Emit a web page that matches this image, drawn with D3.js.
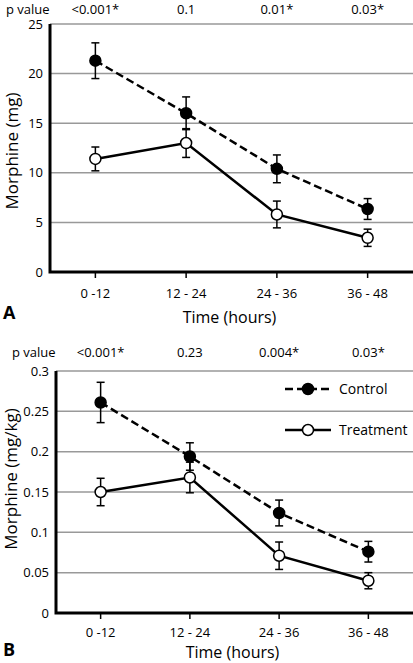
<!DOCTYPE html>
<html><head><meta charset="utf-8">
<script src="https://cdn.jsdelivr.net/npm/d3@7"></script>
<style>body{margin:0;background:#fff}svg{display:block}text{font-family:"Open Sans",sans-serif;fill:#000}</style>
</head><body>
<script>
const categories = ["0 -12", "12 - 24", "24 - 36", "36 - 48"];
// Panel A: morphine (mg)
const pValuesA = ["<0.001*", "0.1", "0.01*", "0.03*"];
const controlA = [21.3, 16.0, 10.4, 6.35];
const controlErrA = [1.8, 1.65, 1.4, 1.05];
const treatmentA = [11.4, 13.0, 5.8, 3.45];
const treatmentErrA = [1.2, 1.45, 1.35, 0.87];
const yTicksA = [0, 5, 10, 15, 20, 25];
// Panel B: morphine (mg/kg)
const pValuesB = ["<0.001*", "0.23", "0.004*", "0.03*"];
const controlB = [0.261, 0.194, 0.124, 0.076];
const controlErrB = [0.025, 0.017, 0.016, 0.0128];
const treatmentB = [0.150, 0.168, 0.071, 0.040];
const treatmentErrB = [0.017, 0.019, 0.017, 0.010];
const yTicksB = [0, 0.05, 0.1, 0.15, 0.2, 0.25, 0.3];

const W = 413, H = 663;
const svg = d3.select("body").append("svg").attr("width", W).attr("height", H);

function panel(opt) {
  const g = svg.append("g");
  const x = d3.scaleBand().domain(categories).range([opt.x0, W]);
  const y = d3.scaleLinear().domain([0, opt.ymax]).range([opt.yBottom, opt.yTop]);
  const cx = c => x(c) + x.bandwidth() / 2;
  // gridlines
  g.selectAll(".grid").data(opt.ticks.filter(t => t > 0)).join("line")
    .attr("x1", opt.x0).attr("x2", W).attr("y1", d => y(d)).attr("y2", d => y(d))
    .attr("stroke", "#999").attr("stroke-width", 1.5);
  // y tick labels
  g.selectAll(".yl").data(opt.ticks).join("text")
    .attr("x", opt.x0 - 7).attr("y", d => y(d)).attr("dy", "0.35em")
    .attr("text-anchor", "end").attr("font-size", 13).text(d => String(d));
  // x axis ticks
  g.selectAll(".xt").data(categories).join("line")
    .attr("x1", cx).attr("x2", cx).attr("y1", opt.yBottom).attr("y2", opt.yBottom + 6)
    .attr("stroke", "#000").attr("stroke-width", 1.5);
  g.selectAll(".xl").data(categories).join("text")
    .attr("x", cx).attr("y", opt.yBottom + opt.tickLabOff).attr("dy", "0.35em")
    .attr("text-anchor", "middle").attr("font-size", 13).text(d => d);
  // axes
  g.append("path").attr("d", `M${opt.x0},${opt.yTop}V${opt.yBottom}H${W}`)
    .attr("fill", "none").attr("stroke", "#000").attr("stroke-width", 3);
  // axis titles
  g.append("text").attr("x", (opt.x0 + W) / 2 - 2).attr("y", opt.yBottom + opt.titleOff).attr("dy", "0.35em")
    .attr("text-anchor", "middle").attr("font-size", 16).text("Time (hours)");
  g.append("text").attr("transform", `translate(${opt.ylx},${opt.ylc}) rotate(-90)`)
    .attr("dy", "0.35em").attr("text-anchor", "middle").attr("font-size", 17).text(opt.ylabel);
  g.append("text").attr("x", 3).attr("y", opt.letterY).attr("dy", "0.35em")
    .attr("font-size", 18).attr("font-weight", "bold").text(opt.letter);
  // p values
  g.append("text").attr("x", opt.pvx).attr("y", opt.pY).attr("dy", "0.35em")
    .attr("font-size", 13).text("p value");
  g.selectAll(".pv").data(opt.pvals).join("text")
    .attr("x", (d, i) => cx(categories[i])).attr("y", opt.pY).attr("dy", "0.35em")
    .attr("text-anchor", "middle").attr("font-size", 13).text(d => d);

  const series = [
    {vals: opt.control, errs: opt.controlErr, dash: "8,4", fill: "#000"},
    {vals: opt.treatment, errs: opt.treatmentErr, dash: null, fill: "#fff"}
  ];
  const line = d3.line().x((d, i) => cx(categories[i])).y(d => y(d));
  series.forEach(s => {
    const sg = g.append("g");
    sg.append("path").datum(s.vals).attr("d", line).attr("fill", "none")
      .attr("stroke", "#000").attr("stroke-width", 2.5).attr("stroke-dasharray", s.dash);
    const eb = sg.selectAll(".eb").data(s.vals).join("g");
    eb.append("line").attr("x1", (d, i) => cx(categories[i])).attr("x2", (d, i) => cx(categories[i]))
      .attr("y1", (d, i) => y(d + s.errs[i])).attr("y2", (d, i) => y(d - s.errs[i]))
      .attr("stroke", "#000").attr("stroke-width", 1.5);
    [1, -1].forEach(sg2 => {
      eb.append("line").attr("x1", (d, i) => cx(categories[i]) - 4).attr("x2", (d, i) => cx(categories[i]) + 4)
        .attr("y1", (d, i) => y(d + sg2 * s.errs[i])).attr("y2", (d, i) => y(d + sg2 * s.errs[i]))
        .attr("stroke", "#000").attr("stroke-width", 1.5);
    });
    sg.selectAll("circle").data(s.vals).join("circle")
      .attr("cx", (d, i) => cx(categories[i])).attr("cy", d => y(d)).attr("r", 5.5)
      .attr("fill", s.fill).attr("stroke", "#000").attr("stroke-width", 1.5);
  });
  return {x, y};
}

panel({x0: 50, yTop: 24, yBottom: 272, ymax: 25, ticks: yTicksA, ylabel: "Morphine (mg)", ylx: 12, ylc: 151,
  tickLabOff: 21, titleOff: 45,
  letter: "A", letterY: 313, pY: 9, pvx: 6, pvals: pValuesA,
  control: controlA, controlErr: controlErrA, treatment: treatmentA, treatmentErr: treatmentErrA});
panel({x0: 56, yTop: 371, yBottom: 613, ymax: 0.3, ticks: yTicksB, ylabel: "Morphine (mg/kg)", ylx: 11, ylc: 479,
  tickLabOff: 19, titleOff: 39,
  letter: "B", letterY: 650, pY: 352, pvx: 12, pvals: pValuesB,
  control: controlB, controlErr: controlErrB, treatment: treatmentB, treatmentErr: treatmentErrB});

// legend
const legend = [{name: "Control", dash: "8,4", fill: "#000", y: 389}, {name: "Treatment", dash: null, fill: "#fff", y: 430}];
const lg = svg.append("g");
legend.forEach(l => {
  lg.append("line").attr("x1", 285).attr("x2", 331).attr("y1", l.y).attr("y2", l.y)
    .attr("stroke", "#000").attr("stroke-width", 2.5).attr("stroke-dasharray", l.dash);
  lg.append("circle").attr("cx", 308).attr("cy", l.y).attr("r", 5.5).attr("fill", l.fill)
    .attr("stroke", "#000").attr("stroke-width", 1.5);
  lg.append("text").attr("x", 339).attr("y", l.y).attr("dy", "0.35em").attr("font-size", 14).text(l.name);
});
</script>
</body></html>
